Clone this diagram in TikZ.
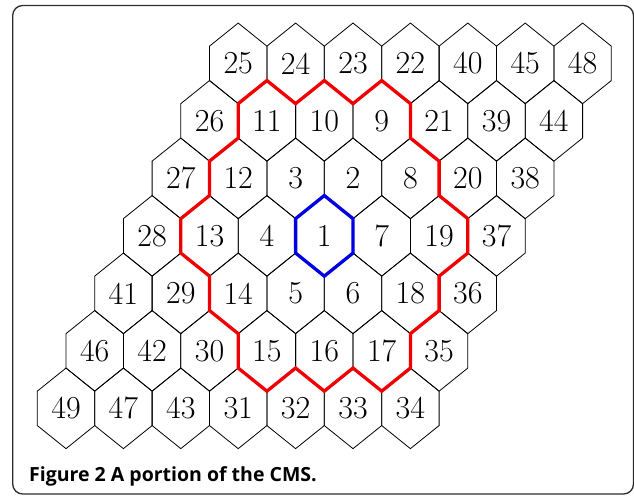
\documentclass[tikz,border=0pt]{standalone}
\usepackage{fontspec}
\newfontfamily\capfont{Open Sans}
\definecolor{ringred}{RGB}{240,0,0}
\definecolor{ringblue}{RGB}{0,0,225}
\definecolor{framegray}{RGB}{45,45,45}
\begin{document}
\begin{tikzpicture}[x=1pt,y=-1pt,
  hex/.style={draw=black, line width=0.8pt, line join=miter},
  num/.style={font=\fontsize{32}{32}\selectfont, inner sep=0pt},
  ring/.style={line width=3.3pt, line join=miter},
  frame/.style={draw=framegray, line width=1.3pt, rounded corners=10pt},
  caption/.style={anchor=base west, inner sep=0pt, font=\capfont\bfseries\fontsize{19.5}{23}\selectfont}]
\useasboundingbox (0,0) rectangle (634,495);
\draw[frame] (12.7,5.5) rectangle (633.5,494);
\foreach \row [count=\r from 0] in {{25,24,23,22,40,45,48},{26,11,10,9,21,39,44},{27,12,3,2,8,20,38},{28,13,4,1,7,19,37},{41,29,14,5,6,18,36},{46,42,30,15,16,17,35},{49,47,43,31,32,33,34}}{
  \foreach \l [count=\c from 0] in \row {
    \pgfmathsetmacro\cx{66+(6-\r)*28.7+\c*57.4}
    \pgfmathsetmacro\cy{63.35+\r*57.5}
    \coordinate (h\l-T) at (\cx,\cy-40.3);
    \coordinate (h\l-UR) at (\cx+28.7,\cy-17.2);
    \coordinate (h\l-LR) at (\cx+28.7,\cy+17.2);
    \coordinate (h\l-B) at (\cx,\cy+40.3);
    \coordinate (h\l-LL) at (\cx-28.7,\cy+17.2);
    \coordinate (h\l-UL) at (\cx-28.7,\cy-17.2);
    \draw[hex] (h\l-T) -- (h\l-UR) -- (h\l-LR) -- (h\l-B) -- (h\l-LL) -- (h\l-UL) -- cycle;
    \node[num] (h\l) at (\cx,\cy) {\l};
  }
}
\draw[ring, ringred] (h11-UL) -- (h11-T) -- (h10-UL) -- (h10-T) -- (h10-UR) -- (h9-T) -- (h9-UR) -- (h9-LR)
  -- (h8-UR) -- (h8-LR) -- (h19-UR) -- (h19-LR) -- (h19-B) -- (h18-LR) -- (h18-B) -- (h17-LR)
  -- (h17-B) -- (h17-LL) -- (h16-B) -- (h16-LL) -- (h15-B) -- (h15-LL) -- (h15-UL) -- (h14-LL)
  -- (h14-UL) -- (h13-LL) -- (h13-UL) -- (h13-T) -- (h12-UL) -- (h12-T) -- cycle;
\draw[ring, ringblue] (h1-T) -- (h1-UR) -- (h1-LR) -- (h1-B) -- (h1-LL) -- (h1-UL) -- cycle;
\node[caption] (cap) at (29,481.7) {Figure 2 A portion of the CMS.};
\end{tikzpicture}
\end{document}
